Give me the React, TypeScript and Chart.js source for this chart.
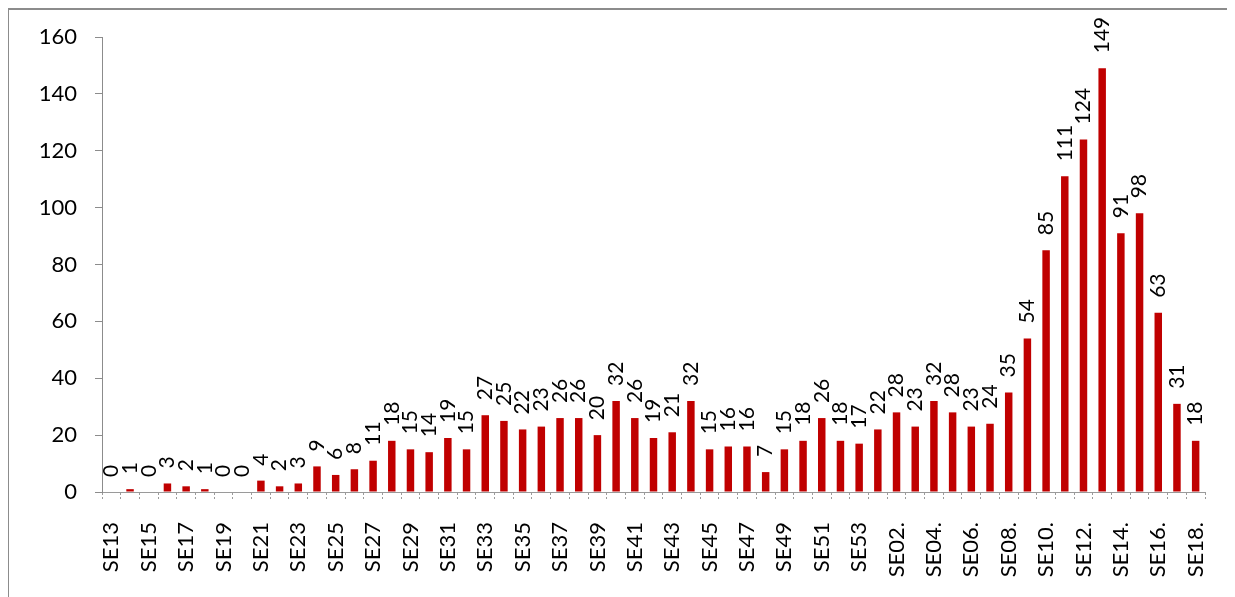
import React, { useEffect, useRef } from "react";
import { Chart, registerables } from "chart.js";

Chart.register(...registerables);

const weeks: string[] = [
  "SE13", "SE14", "SE15", "SE16", "SE17", "SE18", "SE19", "SE20", "SE21", "SE22",
  "SE23", "SE24", "SE25", "SE26", "SE27", "SE28", "SE29", "SE30", "SE31", "SE32",
  "SE33", "SE34", "SE35", "SE36", "SE37", "SE38", "SE39", "SE40", "SE41", "SE42",
  "SE43", "SE44", "SE45", "SE46", "SE47", "SE48", "SE49", "SE50", "SE51", "SE52",
  "SE53", "SE01.", "SE02.", "SE03.", "SE04.", "SE05.", "SE06.", "SE07.", "SE08.", "SE09.",
  "SE10.", "SE11.", "SE12.", "SE13.", "SE14.", "SE15.", "SE16.", "SE17.", "SE18.",
];

const counts: number[] = [
  0, 1, 0, 3, 2, 1, 0, 0, 4, 2,
  3, 9, 6, 8, 11, 18, 15, 14, 19, 15,
  27, 25, 22, 23, 26, 26, 20, 32, 26, 19,
  21, 32, 15, 16, 16, 7, 15, 18, 26, 18,
  17, 22, 28, 23, 32, 28, 23, 24, 35, 54,
  85, 111, 124, 149, 91, 98, 63, 31, 18,
];

const yMax = 160;
const yStep = 20;

const FONT = "Lato, 'Open Sans', sans-serif";

const valueLabels = {
  id: "valueLabels",
  afterDatasetsDraw(chart: any) {
    const ctx = chart.ctx;
    const meta = chart.getDatasetMeta(0);
    ctx.save();
    ctx.font = `21px ${FONT}`;
    ctx.fillStyle = "#000";
    ctx.textAlign = "left";
    ctx.textBaseline = "middle";
    meta.data.forEach((bar: any, i: number) => {
      ctx.save();
      ctx.translate(bar.x, bar.y - 15);
      ctx.rotate(-Math.PI / 2);
      ctx.fillText(String(counts[i]), 0, 0);
      ctx.restore();
    });
    ctx.restore();
  },
};

export default function App() {
  const ref = useRef<HTMLCanvasElement | null>(null);

  useEffect(() => {
    if (!ref.current) return;
    const chart = new Chart(ref.current, {
      type: "bar",
      data: {
        labels: weeks,
        datasets: [
          {
            data: counts,
            backgroundColor: "#C00000",
            barPercentage: 0.4,
            categoryPercentage: 1,
          },
        ],
      },
      options: {
        animation: false,
        responsive: false,
        maintainAspectRatio: false,
        layout: { padding: { top: 27, right: 27, bottom: 0, left: 0 } },
        plugins: {
          legend: { display: false },
          tooltip: { enabled: false },
        },
        scales: {
          x: {
            afterFit: (s: any) => {
              s.height = 103;
              s.paddingLeft = 0;
              s.paddingRight = 0;
            },
            grid: {
              display: true,
              drawOnChartArea: false,
              drawTicks: true,
              tickLength: 8,
              offset: true,
              color: "#9a9a9a",
              tickBorderDash: [2, 2],
            },
            border: { display: true, color: "#9a9a9a", dash: [2, 2] },
            ticks: {
              autoSkip: false,
              maxRotation: 90,
              minRotation: 90,
              padding: 22,
              color: "#000",
              font: { family: FONT, size: 22 },
              callback: (_v: any, i: number) => (i % 2 === 0 ? weeks[i] : ""),
            },
          },
          y: {
            min: 0,
            max: yMax,
            afterFit: (s: any) => {
              s.width = 93;
              s.paddingTop = 0;
              s.paddingBottom = 0;
            },
            grid: {
              display: true,
              drawOnChartArea: false,
              drawTicks: true,
              tickLength: 7,
              color: "#8c8c8c",
            },
            border: { display: true, color: "#8c8c8c" },
            ticks: {
              stepSize: yStep,
              padding: 18,
              color: "#000",
              font: { family: FONT, size: 22 },
            },
          },
        },
      },
      plugins: [valueLabels],
    });
    return () => chart.destroy();
  }, []);

  return (
    <div
      style={{
        width: 1227,
        height: 600,
        border: "2px solid #8c8c8c",
        boxSizing: "border-box",
        marginLeft: -1,
        background: "#fff",
      }}
    >
      <canvas ref={ref} width={1223} height={585} style={{ display: "block" }} />
    </div>
  );
}
